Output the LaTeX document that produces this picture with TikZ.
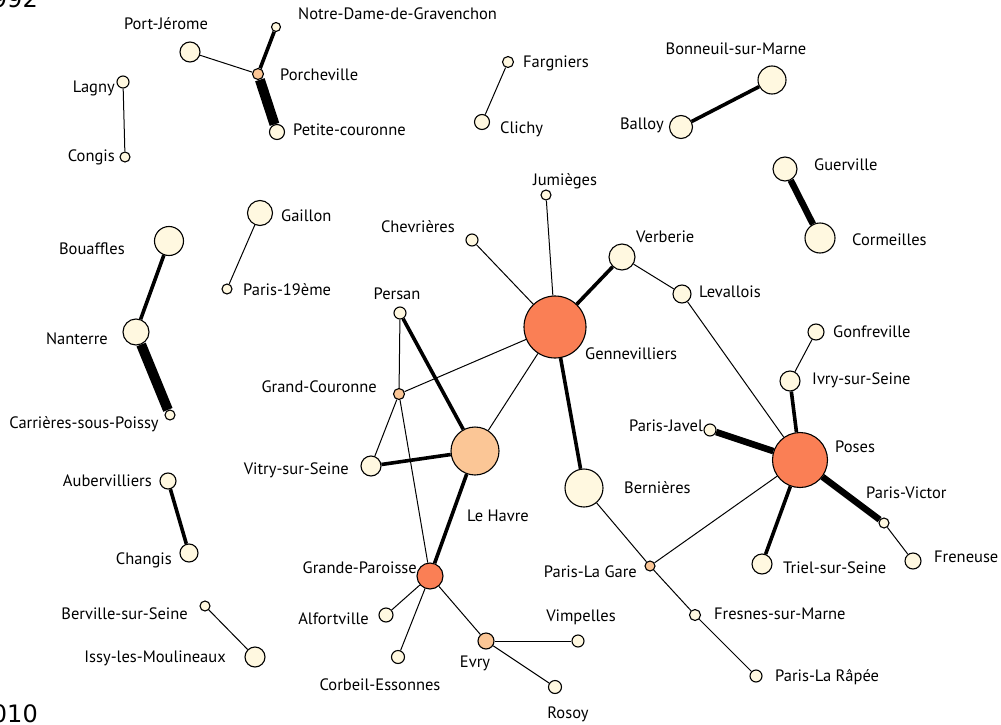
\documentclass[tikz,border=0pt]{standalone}
\usepackage{fontspec}
\setmainfont{PT Sans}
\newfontfamily\yearfont{DejaVu Sans}
\usepackage{tikz}
\usetikzlibrary{positioning}
\definecolor{nodeCream}{HTML}{FFF8E0}
\definecolor{nodePeach}{HTML}{FBC696}
\definecolor{nodeCoral}{HTML}{FA7F55}
\tikzset{
  town/.style={circle,draw=black,line width=1.1pt,fill=nodeCream,inner sep=0pt},
  peach/.style={town,fill=nodePeach},
  coral/.style={town,fill=nodeCoral},
  lbl/.style={font=\fontsize{16.5}{18}\selectfont,inner sep=0pt},
  link/.style={line width=1pt},
  midlink/.style={line width=3.6pt},
  heavylink/.style={line width=6.5pt},
  maxlink/.style={line width=10pt}
}

\begin{document}
\begin{tikzpicture}[x=1pt,y=-1pt]
  \useasboundingbox (0,0) rectangle (1001,725);
  % years
  \node[anchor=south east,font=\yearfont\fontsize{24}{26}\selectfont,inner sep=0pt] (yA) at (38,8) {1992};
  \node[anchor=south east,font=\yearfont\fontsize{24}{26}\selectfont,inner sep=0pt] (yB) at (38,723) {2010};

  % top left
  \node[town, minimum size=20pt] (portj) at (190,52) {};
  \node[town, minimum size=9pt] (notre) at (276,27) {};
  \node[peach, minimum size=11pt] (porch) at (258,74) {};
  \node[town, minimum size=15pt] (petite) at (277,132) {};
  \node[town, minimum size=12pt] (lagny) at (123,82) {};
  \node[town, minimum size=10pt] (congis) at (125,157) {};
  \node[town, minimum size=11pt] (fargn) at (508,62) {};
  \node[town, minimum size=15pt] (clichy) at (482,122) {};
  \node[town, minimum size=28pt] (bonne) at (772,80) {};
  \node[town, minimum size=23pt] (balloy) at (681,127) {};
  \node[town, minimum size=24pt] (guerv) at (785,169) {};
  \node[town, minimum size=30pt] (corme) at (820,238) {};

  % left
  \node[town, minimum size=25pt] (gaill) at (260,213) {};
  \node[town, minimum size=10pt] (par19) at (227,289) {};
  \node[town, minimum size=29pt] (bouaf) at (169,241) {};
  \node[town, minimum size=26pt] (nant) at (136,332) {};
  \node[town, minimum size=10pt] (carri) at (170,415) {};
  \node[town, minimum size=16pt] (auber) at (168,481) {};
  \node[town, minimum size=18pt] (chang) at (189,553) {};
  \node[town, minimum size=10pt] (bervi) at (205,606) {};
  \node[town, minimum size=20pt] (issy) at (255,657) {};

  % centre
  \node[town, minimum size=10pt] (jumie) at (546,195) {};
  \node[town, minimum size=12pt] (chevr) at (472,240) {};
  \node[coral, minimum size=62pt] (genne) at (555,327) {};
  \node[town, minimum size=26pt] (verbe) at (622,257) {};
  \node[town, minimum size=18pt] (leval) at (682,294) {};
  \node[town, minimum size=12pt] (persan) at (400,313) {};
  \node[peach, minimum size=11pt] (grandc) at (399,394) {};
  \node[peach, minimum size=48pt] (havre) at (475,451) {};
  \node[town, minimum size=20pt] (vitry) at (371,466) {};
  \node[coral, minimum size=26pt] (grandp) at (430,576) {};
  \node[town, minimum size=14pt] (alfor) at (386,615) {};
  \node[town, minimum size=13pt] (corbe) at (398,657) {};
  \node[peach, minimum size=16pt] (evry) at (486,641) {};
  \node[town, minimum size=12pt] (vimpe) at (578,641) {};
  \node[town, minimum size=13pt] (rosoy) at (555,687) {};
  \node[town, minimum size=38pt] (berni) at (584,488) {};
  \node[peach, minimum size=10pt] (gare) at (650,566) {};
  \node[town, minimum size=11pt] (fresn) at (695,615) {};
  \node[town, minimum size=12pt] (rapee) at (756,676) {};

  % right
  \node[coral, minimum size=55pt] (poses) at (800,460) {};
  \node[town, minimum size=16pt] (gonfr) at (816,332) {};
  \node[town, minimum size=20pt] (ivry) at (790,381) {};
  \node[town, minimum size=12pt] (javel) at (710,430) {};
  \node[town, minimum size=10pt] (victor) at (884,523) {};
  \node[town, minimum size=16pt] (freneu) at (913,561) {};
  \node[town, minimum size=20pt] (triel) at (762,564) {};

  % labels
  \node[lbl] (tportj) at (166,24) {Port-Jérome};
  \node[lbl, anchor=west] (tnotre) at (298,14) {Notre-Dame-de-Gravenchon};
  \node[lbl, anchor=west] (tporch) at (280,75) {Porcheville};
  \node[lbl, anchor=west] (tpetite) at (293,130) {Petite-couronne};
  \node[lbl, anchor=east] (tlagny) at (115,88) {Lagny};
  \node[lbl, anchor=east] (tcongis) at (115,157) {Congis};
  \node[lbl, anchor=west] (tfargn) at (523,63) {Fargniers};
  \node[lbl, anchor=west] (tclichy) at (500,129) {Clichy};
  \node[lbl] (tbonne) at (736,49) {Bonneuil-sur-Marne};
  \node[lbl, anchor=east] (tballoy) at (664,125) {Balloy};
  \node[lbl, anchor=west] (tguerv) at (814,165) {Guerville};
  \node[lbl, anchor=west] (tcorme) at (852,240) {Cormeilles};
  \node[lbl, anchor=west] (tgaill) at (281,216) {Gaillon};
  \node[lbl, anchor=west] (tpar19) at (243,290) {Paris-19ème};
  \node[lbl, anchor=east] (tbouaf) at (125,249) {Bouaffles};
  \node[lbl, anchor=east] (tnant) at (108,339) {Nanterre};
  \node[lbl] (tcarri) at (84,424) {Carrières-sous-Poissy};
  \node[lbl, anchor=east] (tauber) at (152,481) {Aubervilliers};
  \node[lbl, anchor=east] (tchang) at (172,560) {Changis};
  \node[lbl, anchor=east] (tbervi) at (188,614) {Berville-sur-Seine};
  \node[lbl, anchor=east] (tissy) at (226,658) {Issy-les-Moulineaux};
  \node[lbl] (tjumie) at (565,181) {Jumièges};
  \node[lbl, anchor=east] (tchevr) at (455,227) {Chevrières};
  \node[lbl, anchor=west] (tgenne) at (585,354) {Gennevilliers};
  \node[lbl, anchor=west] (tverbe) at (636,237) {Verberie};
  \node[lbl, anchor=west] (tleval) at (699,292) {Levallois};
  \node[lbl] (tpersan) at (397,294) {Persan};
  \node[lbl, anchor=east] (tgrandc) at (377,387) {Grand-Couronne};
  \node[lbl, anchor=west] (thavre) at (467,516) {Le Havre};
  \node[lbl, anchor=east] (tvitry) at (349,470) {Vitry-sur-Seine};
  \node[lbl, anchor=east] (tgrandp) at (417,568) {Grande-Paroisse};
  \node[lbl, anchor=east] (talfor) at (369,619) {Alfortville};
  \node[lbl] (tcorbe) at (380,685) {Corbeil-Essonnes};
  \node[lbl] (tevry) at (475,663) {Evry};
  \node[lbl] (tvimpe) at (581,617) {Vimpelles};
  \node[lbl] (trosoy) at (568,714) {Rosoy};
  \node[lbl, anchor=west] (tberni) at (624,488) {Bernières};
  \node[lbl, anchor=east] (tgare) at (637,572) {Paris-La Gare};
  \node[lbl, anchor=west] (tfresn) at (714,614) {Fresnes-sur-Marne};
  \node[lbl, anchor=west] (trapee) at (775,677) {Paris-La Râpée};
  \node[lbl, anchor=west] (tposes) at (835,447) {Poses};
  \node[lbl, anchor=west] (tgonfr) at (833,332) {Gonfreville};
  \node[lbl, anchor=west] (tivry) at (812,380) {Ivry-sur-Seine};
  \node[lbl, anchor=east] (tjavel) at (703,426) {Paris-Javel};
  \node[lbl, anchor=west] (tvictor) at (866,493) {Paris-Victor};
  \node[lbl, anchor=west] (tfreneu) at (934,557) {Freneuse};
  \node[lbl, anchor=west] (ttriel) at (783,568) {Triel-sur-Seine};

  % links
  \draw[link] (portj) -- (porch);
  \draw[midlink] (notre) -- (porch);
  \draw[maxlink] (porch) -- (petite);
  \draw[link] (lagny) -- (congis);
  \draw[link] (fargn) -- (clichy);
  \draw[midlink] (balloy) -- (bonne);
  \draw[heavylink] (guerv) -- (corme);
  \draw[link] (gaill) -- (par19);
  \draw[midlink] (bouaf) -- (nant);
  \draw[maxlink] (nant) -- (carri);
  \draw[midlink] (auber) -- (chang);
  \draw[link] (bervi) -- (issy);
  \draw[link] (jumie) -- (genne);
  \draw[link] (chevr) -- (genne);
  \draw[midlink] (genne) -- (verbe);
  \draw[link] (verbe) -- (leval);
  \draw[link] (leval) -- (poses);
  \draw[link] (genne) -- (grandc);
  \draw[link] (genne) -- (havre);
  \draw[midlink] (genne) -- (berni);
  \draw[midlink] (persan) -- (havre);
  \draw[link] (persan) -- (grandc);
  \draw[link] (grandc) -- (vitry);
  \draw[link] (grandc) -- (grandp);
  \draw[midlink] (vitry) -- (havre);
  \draw[midlink] (havre) -- (grandp);
  \draw[link] (grandp) -- (alfor);
  \draw[link] (grandp) -- (corbe);
  \draw[link] (grandp) -- (evry);
  \draw[link] (evry) -- (vimpe);
  \draw[link] (evry) -- (rosoy);
  \draw[link] (berni) -- (gare);
  \draw[link] (gare) -- (poses);
  \draw[link] (gare) -- (fresn);
  \draw[link] (fresn) -- (rapee);
  \draw[link] (gonfr) -- (ivry);
  \draw[midlink] (ivry) -- (poses);
  \draw[heavylink] (javel) -- (poses);
  \draw[heavylink] (poses) -- (victor);
  \draw[link] (victor) -- (freneu);
  \draw[midlink] (poses) -- (triel);
\end{tikzpicture}
\end{document}
